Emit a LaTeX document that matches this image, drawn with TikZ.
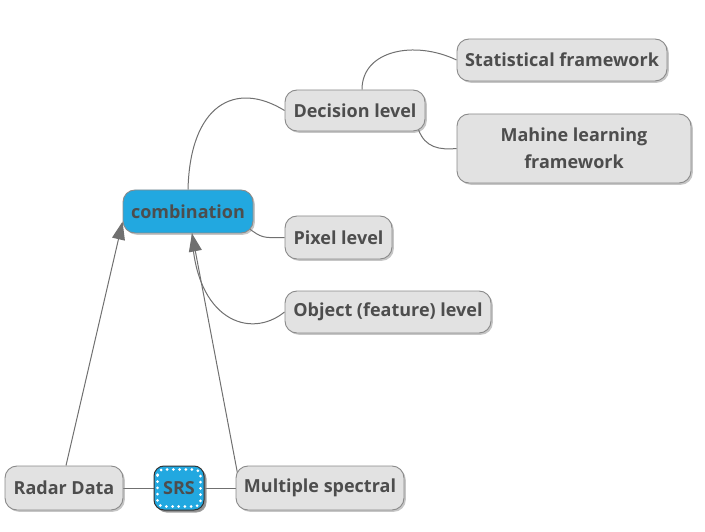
\documentclass[tikz,border=0pt]{standalone}
\usepackage{fontspec}
\setmainfont{Open Sans}
\usetikzlibrary{shadows,backgrounds,arrows.meta,calc}
\definecolor{txt}{HTML}{4D4D4D}
\definecolor{boxfill}{HTML}{E2E2E2}
\definecolor{boxline}{HTML}{8A8A8A}
\definecolor{blu}{HTML}{22A8E0}
\definecolor{conn}{HTML}{707070}
\tikzset{
  topic/.style={draw=boxline, fill=boxfill, line width=0.9pt, rounded corners=12pt,
    text=txt, font=\bfseries\fontsize{18}{26.5}\selectfont, inner sep=0pt, align=center,
    drop shadow={shadow xshift=1.8pt, shadow yshift=-1.8pt, opacity=0.45}},
  central/.style={topic, fill=blu, draw=boxline},
  srsbox/.style={topic, fill=blu, draw=black!80, line width=1pt, rounded corners=10pt,
    drop shadow={shadow xshift=2.5pt, shadow yshift=-2.5pt, opacity=0.75}},
  link/.style={draw=conn, line width=1pt},
  arr/.style={link, -{Triangle[length=18pt,width=13pt]}}
}
\begin{document}
\begin{tikzpicture}[x=1pt,y=-1pt]
\useasboundingbox (0,0) rectangle (705,532);
\node[central, minimum width=130pt, minimum height=43pt] (comb) at (188,211.5) {combination};
\node[topic, minimum width=140pt, minimum height=41pt] (dec) at (355,110.5) {Decision level};
\node[topic, minimum width=210pt, minimum height=42pt] (stat) at (562,60) {Statistical framework};
\node[topic, minimum width=234pt, minimum height=69pt] (mach) at (574,148.5) {Mahine learning\\framework};
\node[topic, minimum width=107pt, minimum height=43pt] (pix) at (338.5,237.5) {Pixel level};
\node[topic, minimum width=206pt, minimum height=42pt] (obj) at (388,312) {Object (feature) level};
\node[topic, minimum width=118pt, minimum height=44pt] (radar) at (64,488) {Radar Data};
\node[srsbox, minimum width=50pt, minimum height=44pt] (srs) at (179,488) {SRS};
\draw[white, line width=3pt, line cap=round, dash pattern=on 0pt off 6.2pt, rounded corners=6pt]
  ([xshift=4pt,yshift=-4pt]srs.north west) rectangle ([xshift=-4pt,yshift=4pt]srs.south east);
\node[topic, minimum width=168pt, minimum height=44pt] (mult) at (320,488) {Multiple spectral};
\begin{scope}[on background layer]
\draw[link] (comb.north) .. controls (190,105) and (235,80) .. (dec.west);
\draw[link] ([xshift=7pt]dec.north) .. controls (362,50) and (415,40) .. (stat.west);
\draw[link] ([xshift=-7pt,yshift=2pt]dec.south east) .. controls (425,148) and (440,150) .. (mach.west);
\draw[link] ([xshift=-6pt,yshift=6pt]comb.south east) .. controls (262,238) .. (pix.west);
\draw[link] ([xshift=4pt]comb.south) .. controls (195,320) and (250,340) .. (obj.west);
\draw[link] (radar.east) -- (srs.west);
\draw[link] (srs.east) -- (mult.west);
\draw[arr] ([xshift=2pt]radar.north) -- ($(comb.south west)!0.27!(comb.north west)$);
\draw[arr] ([xshift=2pt,yshift=-8pt]mult.north west) -- ([xshift=4pt]comb.south);
\end{scope}
\end{tikzpicture}
\end{document}
